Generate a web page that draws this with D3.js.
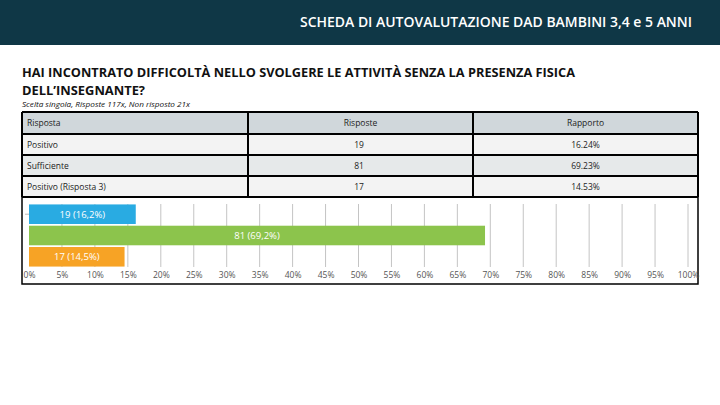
<!DOCTYPE html>
<html><head><meta charset="utf-8">
<script src="https://cdn.jsdelivr.net/npm/d3@7"></script>
<style>html,body{margin:0;padding:0;background:#fff;}svg{display:block;}</style>
</head><body>
<svg id="c" width="720" height="405"></svg>
<script>
const pageTitle = "SCHEDA DI AUTOVALUTAZIONE DAD BAMBINI 3,4 e 5 ANNI";
const questionLines = ["HAI  INCONTRATO DIFFICOLTÀ NELLO SVOLGERE LE ATTIVITÀ SENZA LA PRESENZA FISICA", "DELL’INSEGNANTE?"];
const subtitle = "Scelta singola, Risposte 117x, Non risposto 21x";
const tableHeaders = ["Risposta", "Risposte", "Rapporto"];
const categories = ["Positivo", "Sufficiente", "Positivo (Risposta 3)"];
const counts = [19, 81, 17];
const ratios = ["16.24%", "69.23%", "14.53%"];
const percents = [16.2, 69.2, 14.5];
const barColors = ["#29abe2", "#8cc44c", "#f7a325"];
const tickValues = [0,5,10,15,20,25,30,35,40,45,50,55,60,65,70,75,80,85,90,95,100];

const svg = d3.select("#c");
const font = "'Open Sans', 'DejaVu Sans', sans-serif";

// header band
svg.append("rect").attr("x",0).attr("y",0).attr("width",720).attr("height",45).attr("fill","#0f3746");
svg.append("text").attr("x",692).attr("y",27).attr("text-anchor","end")
  .attr("font-family",font).attr("font-size",13.5).attr("font-weight",600).attr("fill","#fff")
  .attr("textLength",392).attr("lengthAdjust","spacingAndGlyphs").text(pageTitle);

// question
questionLines.forEach((t,i)=>{
  const el = svg.append("text").attr("x",22).attr("y",77+i*18)
    .attr("font-family",font).attr("font-size",12.5).attr("font-weight",700).attr("fill","#111").text(t);
  if(i===0) el.attr("textLength",553).attr("lengthAdjust","spacingAndGlyphs");
  else el.attr("textLength",123).attr("lengthAdjust","spacingAndGlyphs");
});
svg.append("text").attr("x",22).attr("y",107).attr("font-family",font).attr("font-size",7.5)
  .attr("font-style","italic").attr("fill","#111").attr("textLength",168).attr("lengthAdjust","spacingAndGlyphs").text(subtitle);

// table
const colX = [22, 248, 473, 698];
const rowY = [112, 134, 155, 176, 197];
const rowFill = ["#d0d7db", "#f3f3f3", "#e6e9ea", "#f3f3f3"];
const tbl = svg.append("g");
for(let r=0;r<4;r++){
  tbl.append("rect").attr("x",colX[0]).attr("y",rowY[r]).attr("width",colX[3]-colX[0]).attr("height",rowY[r+1]-rowY[r]).attr("fill",rowFill[r]);
}
const rows = [tableHeaders].concat(categories.map((c,i)=>[c, String(counts[i]), ratios[i]]));
rows.forEach((row,r)=>{
  const cy = (rowY[r]+rowY[r+1])/2 + 3;
  tbl.append("text").attr("x",colX[0]+5).attr("y",cy).attr("font-family",font).attr("font-size",8.5).attr("fill","#222").text(row[0]);
  tbl.append("text").attr("x",r===0?(colX[1]+colX[2])/2:359).attr("y",cy).attr("text-anchor","middle").attr("font-family",font).attr("font-size",8.5).attr("fill","#222").text(row[1]);
  tbl.append("text").attr("x",(colX[2]+colX[3])/2).attr("y",cy).attr("text-anchor","middle").attr("font-family",font).attr("font-size",8.5).attr("fill","#222").text(row[2]);
});
rowY.forEach(y=>tbl.append("line").attr("x1",colX[0]).attr("x2",colX[3]).attr("y1",y).attr("y2",y).attr("stroke","#000").attr("stroke-width",2));
colX.forEach(x=>tbl.append("line").attr("x1",x).attr("x2",x).attr("y1",rowY[0]).attr("y2",rowY[4]).attr("stroke","#000").attr("stroke-width",2));

// chart box
svg.append("path").attr("d",`M22,197 V284 H698 V197`).attr("fill","none").attr("stroke","#000").attr("stroke-width",1.5);

const x = d3.scaleLinear().domain([0,100]).range([29,688]);
const y = d3.scaleBand().domain(categories).range([204,267]).paddingInner(0.08).paddingOuter(0.02);

const g = svg.append("g");
g.selectAll("line.grid").data(tickValues.slice(1)).join("line")
  .attr("x1",d=>x(d)).attr("x2",d=>x(d)).attr("y1",204).attr("y2",267)
  .attr("stroke","#c4c4c4").attr("stroke-width",1);
g.append("line").attr("x1",25).attr("x2",29).attr("y1",y(categories[0])+y.bandwidth()/2).attr("y2",y(categories[0])+y.bandwidth()/2).attr("stroke","#bbb");

g.selectAll("rect.bar").data(categories).join("rect")
  .attr("x",x(0)).attr("y",d=>y(d)).attr("width",(d,i)=>x(percents[i])-x(0)).attr("height",y.bandwidth())
  .attr("fill",(d,i)=>barColors[i]);
g.selectAll("text.lbl").data(categories).join("text")
  .attr("x",(d,i)=>(x(0)+x(percents[i]))/2).attr("y",d=>y(d)+y.bandwidth()/2+3.4)
  .attr("text-anchor","middle").attr("font-family",font).attr("font-size",9.5).attr("fill","#fff")
  .text((d,i)=>`${counts[i]} (${String(percents[i]).replace(".",",")}%)`);

const ax = d3.axisBottom(x).tickValues(tickValues).tickFormat(d=>d+"%").tickSize(0);
const axg = svg.append("g").attr("transform","translate(0,270)").call(ax);
axg.select(".domain").remove();
axg.selectAll("text").attr("font-family",font).attr("font-size",8.5).attr("fill","#555").attr("dy","0.6em");
</script>
</body></html>
